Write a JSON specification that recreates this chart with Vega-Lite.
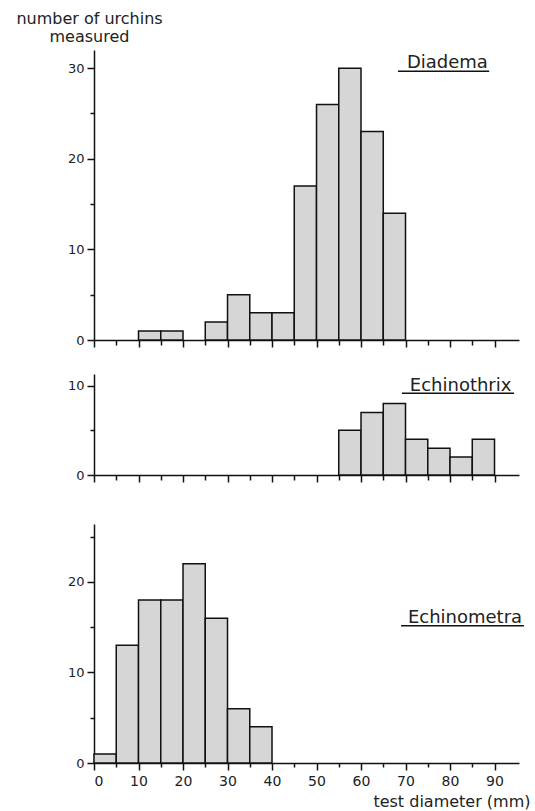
{
  "$schema": "https://vega.github.io/schema/vega-lite/v6.json",
  "padding": {"left": 15, "top": 10, "right": 3, "bottom": 3},
  "background": "white",
  "config": {
    "font": "DejaVu Sans",
    "view": {"stroke": null},
    "axis": {
      "domainColor": "#111", "domainWidth": 1.5, "tickColor": "#111", "tickWidth": 1.5,
      "grid": false, "labelColor": "#222", "labelFont": "DejaVu Sans", "titleFont": "DejaVu Sans",
      "titleColor": "#222", "titleFontWeight": "normal"
    }
  },
  "datasets": {
    "bins": [
      {"species": "Diadema", "lo": 10, "hi": 15, "count": 1},
      {"species": "Diadema", "lo": 15, "hi": 20, "count": 1},
      {"species": "Diadema", "lo": 25, "hi": 30, "count": 2},
      {"species": "Diadema", "lo": 30, "hi": 35, "count": 5},
      {"species": "Diadema", "lo": 35, "hi": 40, "count": 3},
      {"species": "Diadema", "lo": 40, "hi": 45, "count": 3},
      {"species": "Diadema", "lo": 45, "hi": 50, "count": 17},
      {"species": "Diadema", "lo": 50, "hi": 55, "count": 26},
      {"species": "Diadema", "lo": 55, "hi": 60, "count": 30},
      {"species": "Diadema", "lo": 60, "hi": 65, "count": 23},
      {"species": "Diadema", "lo": 65, "hi": 70, "count": 14},
      {"species": "Echinothrix", "lo": 55, "hi": 60, "count": 5},
      {"species": "Echinothrix", "lo": 60, "hi": 65, "count": 7},
      {"species": "Echinothrix", "lo": 65, "hi": 70, "count": 8},
      {"species": "Echinothrix", "lo": 70, "hi": 75, "count": 4},
      {"species": "Echinothrix", "lo": 75, "hi": 80, "count": 3},
      {"species": "Echinothrix", "lo": 80, "hi": 85, "count": 2},
      {"species": "Echinothrix", "lo": 85, "hi": 90, "count": 4},
      {"species": "Echinometra", "lo": 0, "hi": 5, "count": 1},
      {"species": "Echinometra", "lo": 5, "hi": 10, "count": 13},
      {"species": "Echinometra", "lo": 10, "hi": 15, "count": 18},
      {"species": "Echinometra", "lo": 15, "hi": 20, "count": 18},
      {"species": "Echinometra", "lo": 20, "hi": 25, "count": 22},
      {"species": "Echinometra", "lo": 25, "hi": 30, "count": 16},
      {"species": "Echinometra", "lo": 30, "hi": 35, "count": 6},
      {"species": "Echinometra", "lo": 35, "hi": 40, "count": 4}
    ]
  },
  "bounds": "flush",
  "spacing": 34,
  "vconcat": [
    {
      "width": 425, "height": 290,
      "resolve": {"axis": {"x": "independent", "y": "independent"}},
      "layer": [
        {
          "data": {"name": "bins"},
          "transform": [{"filter": "datum.species === 'Diadema'"}],
          "mark": {"type": "bar", "fill": "#d6d6d6", "stroke": "#111", "strokeWidth": 1.5},
          "encoding": {
            "x": {"field": "lo", "type": "quantitative", "scale": {"domain": [0, 95.5], "nice": false, "zero": false},
                  "axis": {"values": [0,10,20,30,40,50,60,70,80,90], "labels": false, "tickSize": 7, "title": null, "orient": "bottom"}},
            "x2": {"field": "hi"},
            "y": {"field": "count", "type": "quantitative", "scale": {"domain": [0, 32], "nice": false},
                  "axis": {"values": [0,10,20,30], "tickSize": 7, "labelFontSize": 13, "labelPadding": 3, "orient": "left",
                           "title": ["number of urchins", "measured"], "titleAngle": 0, "titleAlign": "center",
                           "titleBaseline": "alphabetic", "titleX": -5, "titleY": -27, "titleFontSize": 16, "titleLineHeight": 18}},
            "y2": {"datum": 0}
          }
        },
        {
          "data": {"values": [{"label": "Diadema"}]},
          "mark": {"type": "text", "align": "right", "baseline": "alphabetic", "fontSize": 18, "color": "#222"},
          "encoding": {
            "text": {"field": "label"},
            "x": {"datum": 88.5, "type": "quantitative",
                  "axis": {"values": [5,15,25,35,45,55,65,75,85], "labels": false, "domain": false, "tickSize": 5, "title": null, "orient": "bottom"}},
            "y": {"datum": 30.0, "type": "quantitative",
                  "axis": {"values": [5,15,25], "labels": false, "domain": false, "tickSize": 4, "title": null, "orient": "left"}}
          }
        },
        {
          "data": {"values": [{"label": "Diadema"}]},
          "mark": {"type": "rule", "stroke": "#111", "strokeWidth": 1.5},
          "encoding": {
            "x": {"datum": 68.3, "type": "quantitative", "axis": null},
            "x2": {"datum": 88.8},
            "y": {"datum": 29.65, "type": "quantitative", "axis": null}
          }
        }
      ]
    },
    {
      "bounds": "flush",
      "spacing": 49,
      "vconcat": [
        {
          "width": 425, "height": 101,
          "resolve": {"axis": {"x": "independent", "y": "independent"}},
          "layer": [
            {
              "data": {"name": "bins"},
              "transform": [{"filter": "datum.species === 'Echinothrix'"}],
              "mark": {"type": "bar", "fill": "#d6d6d6", "stroke": "#111", "strokeWidth": 1.5},
              "encoding": {
                "x": {"field": "lo", "type": "quantitative", "scale": {"domain": [0, 95.5], "nice": false, "zero": false},
                      "axis": {"values": [0,10,20,30,40,50,60,70,80,90], "labels": false, "tickSize": 7, "title": null, "orient": "bottom"}},
                "x2": {"field": "hi"},
                "y": {"field": "count", "type": "quantitative", "scale": {"domain": [0, 11.3], "nice": false},
                      "axis": {"values": [0,10], "tickSize": 7, "labelFontSize": 13, "labelPadding": 3, "orient": "left", "title": null}},
                "y2": {"datum": 0}
              }
            },
            {
              "data": {"values": [{"label": "Echinothrix"}]},
              "mark": {"type": "text", "align": "right", "baseline": "alphabetic", "fontSize": 18, "color": "#222"},
              "encoding": {
                "text": {"field": "label"},
                "x": {"datum": 93.8, "type": "quantitative",
                      "axis": {"values": [5,15,25,35,45,55,65,75,85], "labels": false, "domain": false, "tickSize": 5, "title": null, "orient": "bottom"}},
                "y": {"datum": 9.43, "type": "quantitative",
                      "axis": {"values": [5], "labels": false, "domain": false, "tickSize": 4, "title": null, "orient": "left"}}
              }
            },
            {
              "data": {"values": [{"label": "Echinothrix"}]},
              "mark": {"type": "rule", "stroke": "#111", "strokeWidth": 1.5},
              "encoding": {
                "x": {"datum": 69.2, "type": "quantitative", "axis": null},
                "x2": {"datum": 94.4},
                "y": {"datum": 9.15, "type": "quantitative", "axis": null}
              }
            }
          ]
        },
        {
          "width": 425, "height": 239,
          "resolve": {"axis": {"x": "independent", "y": "independent"}},
          "layer": [
            {
              "data": {"name": "bins"},
              "transform": [{"filter": "datum.species === 'Echinometra'"}],
              "mark": {"type": "bar", "fill": "#d6d6d6", "stroke": "#111", "strokeWidth": 1.5},
              "encoding": {
                "x": {"field": "lo", "type": "quantitative", "scale": {"domain": [0, 95.5], "nice": false, "zero": false},
                      "axis": {"values": [0,10,20,30,40,50,60,70,80,90], "tickSize": 7, "labelFontSize": 14, "labelPadding": 4, "orient": "bottom",
                               "title": "test diameter (mm)", "titleFontSize": 16, "titleAnchor": null, "titleAlign": "right",
                               "titleBaseline": "alphabetic", "titleX": 436, "titleY": 43}},
                "x2": {"field": "hi"},
                "y": {"field": "count", "type": "quantitative", "scale": {"domain": [0, 26.4], "nice": false},
                      "axis": {"values": [0,10,20], "tickSize": 7, "labelFontSize": 13, "labelPadding": 3, "orient": "left", "title": null}},
                "y2": {"datum": 0}
              }
            },
            {
              "data": {"values": [{"label": "Echinometra"}]},
              "mark": {"type": "text", "align": "right", "baseline": "alphabetic", "fontSize": 18, "color": "#222"},
              "encoding": {
                "text": {"field": "label"},
                "x": {"datum": 96.2, "type": "quantitative",
                      "axis": {"values": [5,15,25,35,45,55,65,75,85], "labels": false, "domain": false, "tickSize": 4, "title": null, "orient": "bottom"}},
                "y": {"datum": 15.5, "type": "quantitative",
                      "axis": {"values": [5,15,25], "labels": false, "domain": false, "tickSize": 4, "title": null, "orient": "left"}}
              }
            },
            {
              "data": {"values": [{"label": "Echinometra"}]},
              "mark": {"type": "rule", "stroke": "#111", "strokeWidth": 1.5},
              "encoding": {
                "x": {"datum": 69.0, "type": "quantitative", "axis": null},
                "x2": {"datum": 96.6},
                "y": {"datum": 15.17, "type": "quantitative", "axis": null}
              }
            }
          ]
        }
      ]
    }
  ]
}
